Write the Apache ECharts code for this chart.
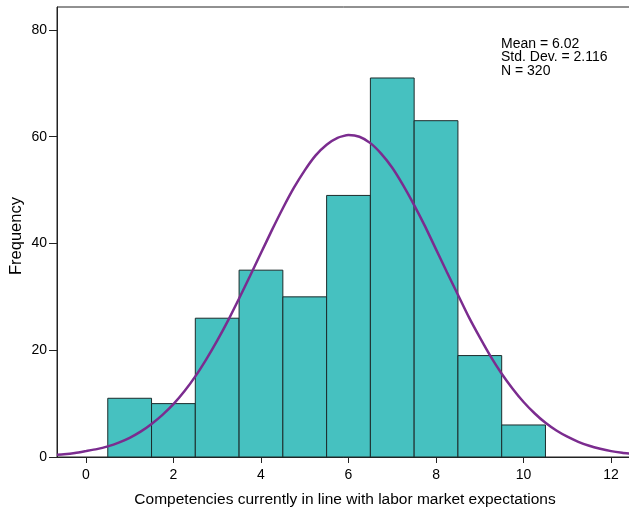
<!DOCTYPE html>
<html>
<head>
<meta charset="utf-8">
<script src="https://cdn.jsdelivr.net/npm/echarts@6/dist/echarts.min.js"></script>
<style>
  html, body { margin: 0; padding: 0; background: #fff; }
  #chart { width: 629px; height: 510px; }
</style>
</head>
<body>
<div id="chart"></div>
<script>
// Histogram bins (centre of each unit-wide bin) and their counts
var binCenters = [1, 2, 3, 4, 5, 6, 7, 8, 9, 10];
var binCounts = [11, 10, 26, 35, 30, 49, 71, 63, 19, 6];

// Fitted normal curve, sampled every quarter unit along the x axis
var curveX = [-0.66, -0.5, -0.25, 0, 0.25, 0.5, 0.75, 1, 1.25, 1.5, 1.75, 2, 2.25, 2.5, 2.75, 3, 3.25, 3.5, 3.75,
              4, 4.25, 4.5, 4.75, 5, 5.25, 5.5, 5.75, 6, 6.25, 6.5, 6.75, 7, 7.25, 7.5, 7.75,
              8, 8.25, 8.5, 8.75, 9, 9.25, 9.5, 9.75, 10, 10.25, 10.5, 10.75, 11, 11.25, 11.5, 11.75, 12, 12.25, 12.5];
var curveY = [0.4, 0.5, 0.75, 1.1, 1.47, 2.0, 2.7, 3.6, 4.75, 6.2, 7.9, 9.9, 12.3, 15.1, 18.3, 21.8, 25.6, 29.7, 33.9,
              38.2, 42.5, 46.6, 50.4, 53.7, 56.5, 58.5, 59.8, 60.3, 60.0, 58.8, 56.8, 54.2, 50.9, 47.2, 43.2,
              38.9, 34.6, 30.4, 26.2, 22.4, 18.8, 15.6, 12.8, 10.3, 8.2, 6.4, 4.96, 3.8, 2.85, 2.1, 1.54, 1.1, 0.79, 0.55];

// Axis ticks
var xTicks = [0, 2, 4, 6, 8, 10, 12];
var yTicks = [0, 20, 40, 60, 80];

// Summary statistics shown in the corner
var statsLines = ['Mean = 6.02', 'Std. Dev. = 2.116', 'N = 320'];

var histData = binCenters.map(function (c, i) { return [c, binCounts[i]]; });
var curveData = curveX.map(function (x, i) { return [x, curveY[i]]; });

var FONT = '"Liberation Sans", Arial, sans-serif';

var chart = echarts.init(document.getElementById('chart'), null, { renderer: 'canvas' });

chart.setOption({
  animation: false,
  backgroundColor: '#ffffff',
  grid: {
    left: 57, right: -4, top: 7, bottom: 53,
    outerBoundsMode: 'none',
    containLabel: false,
    show: true, borderColor: '#222', borderWidth: 1, backgroundColor: 'transparent'
  },
  xAxis: {
    type: 'value',
    min: -0.66, max: 12.5,
    name: 'Competencies currently in line with labor market expectations',
    nameLocation: 'middle',
    nameGap: 35,
    nameTextStyle: { fontFamily: FONT, fontSize: 15.5, color: '#000' },
    axisLine: { show: true, onZero: false, lineStyle: { color: '#222', width: 1 } },
    axisTick: { show: true, length: 6, customValues: xTicks, lineStyle: { color: '#222' } },
    axisLabel: { customValues: xTicks, margin: 11, fontFamily: FONT, fontSize: 14, color: '#000' },
    splitLine: { show: false }
  },
  yAxis: {
    type: 'value',
    min: 0, max: 84.3,
    axisLine: { show: true, onZero: false, lineStyle: { color: '#222', width: 1 } },
    axisTick: { show: true, length: 8, customValues: yTicks, lineStyle: { color: '#222' } },
    axisLabel: { customValues: yTicks, margin: 10, fontFamily: FONT, fontSize: 14, color: '#000' },
    splitLine: { show: false }
  },
  graphic: [{
    // y axis title
    type: 'text',
    x: 16, y: 236,
    rotation: Math.PI / 2,
    style: {
      text: 'Frequency',
      font: '16.5px ' + FONT,
      align: 'center',
      verticalAlign: 'middle',
      fill: '#000'
    }
  }, {
    type: 'text',
    left: 501, top: 37,
    style: {
      text: statsLines.join('\n'),
      font: '14px ' + FONT,
      lineHeight: 13.6,
      fill: '#000'
    }
  }],
  series: [{
    type: 'custom',
    name: 'Frequency',
    data: histData,
    renderItem: function (params, api) {
      var c = api.value(0), v = api.value(1);
      var p0 = api.coord([c - 0.5, v]);
      var p1 = api.coord([c + 0.5, 0]);
      return {
        type: 'rect',
        shape: { x: p0[0], y: p0[1], width: p1[0] - p0[0], height: p1[1] - p0[1] },
        style: { fill: '#46c1c0', stroke: '#1c2b2b', lineWidth: 1 }
      };
    },
    z: 2
  }, {
    type: 'line',
    data: curveData,
    smooth: 0.2,
    symbol: 'none',
    clip: true,
    lineStyle: { color: '#7b2c8f', width: 2.5 },
    z: 3
  }]
});
</script>
</body>
</html>
